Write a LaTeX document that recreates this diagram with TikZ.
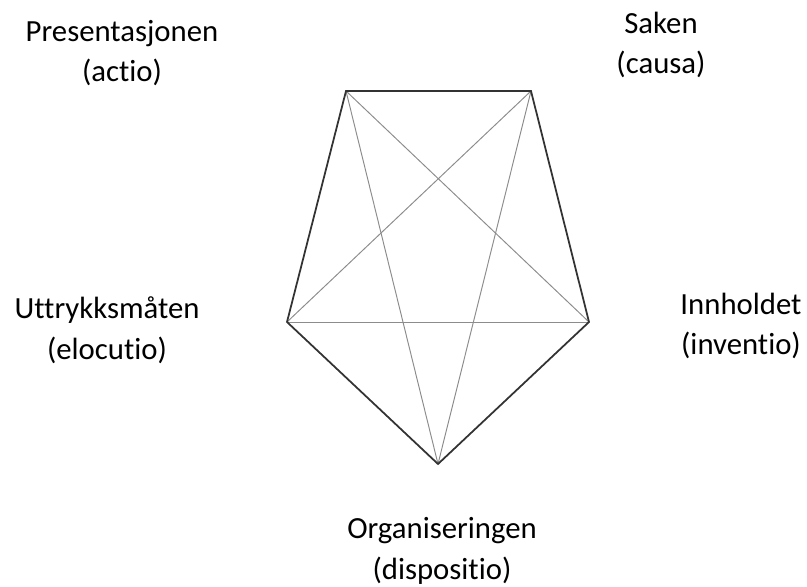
\documentclass[tikz,border=0pt]{standalone}
\usepackage{fontspec}
\setmainfont[Ligatures=NoCommon]{Carlito}
\usetikzlibrary{positioning}

\begin{document}
\begin{tikzpicture}[
  x=0.02cm,y=-0.02cm,
  lbl/.style={align=center,font=\fontsize{17.5}{23.2}\selectfont,inner sep=0pt},
  pt/.style={inner sep=0pt,minimum size=0pt},
  edge/.style={line width=1pt,draw=black!80,line join=miter},
  diag/.style={line width=0.55pt,draw=black!45}
]
\useasboundingbox (0,0) rectangle (807,587);
% corners of the pentagon
\node[pt] (tl) at (346,91) {};
\node[pt] (tr) at (531,91) {};
\node[pt] (rt) at (589,322) {};
\node[pt] (bt) at (438,464) {};
\node[pt] (lt) at (287,322) {};

% diagonals
\draw[diag] (tl) -- (rt);
\draw[diag] (tl) -- (bt);
\draw[diag] (tr) -- (bt);
\draw[diag] (tr) -- (lt);
\draw[diag] (lt) -- (rt);

% outline
\draw[edge] (tl.center) -- (tr.center) -- (rt.center) -- (bt.center) -- (lt.center) -- cycle;

% labels
\node[lbl] (actio) at (122,53) {Presentasjonen\\(actio)};
\node[lbl] (causa) at (661,45) {Saken\\(causa)};
\node[lbl] (elocutio) at (107,330) {Uttrykksmåten\\(elocutio)};
\node[lbl] (inventio) at (741,326) {Innholdet\\(inventio)};
\node[lbl] (dispositio) at (442,551) {Organiseringen\\(dispositio)};
\end{tikzpicture}
\end{document}
